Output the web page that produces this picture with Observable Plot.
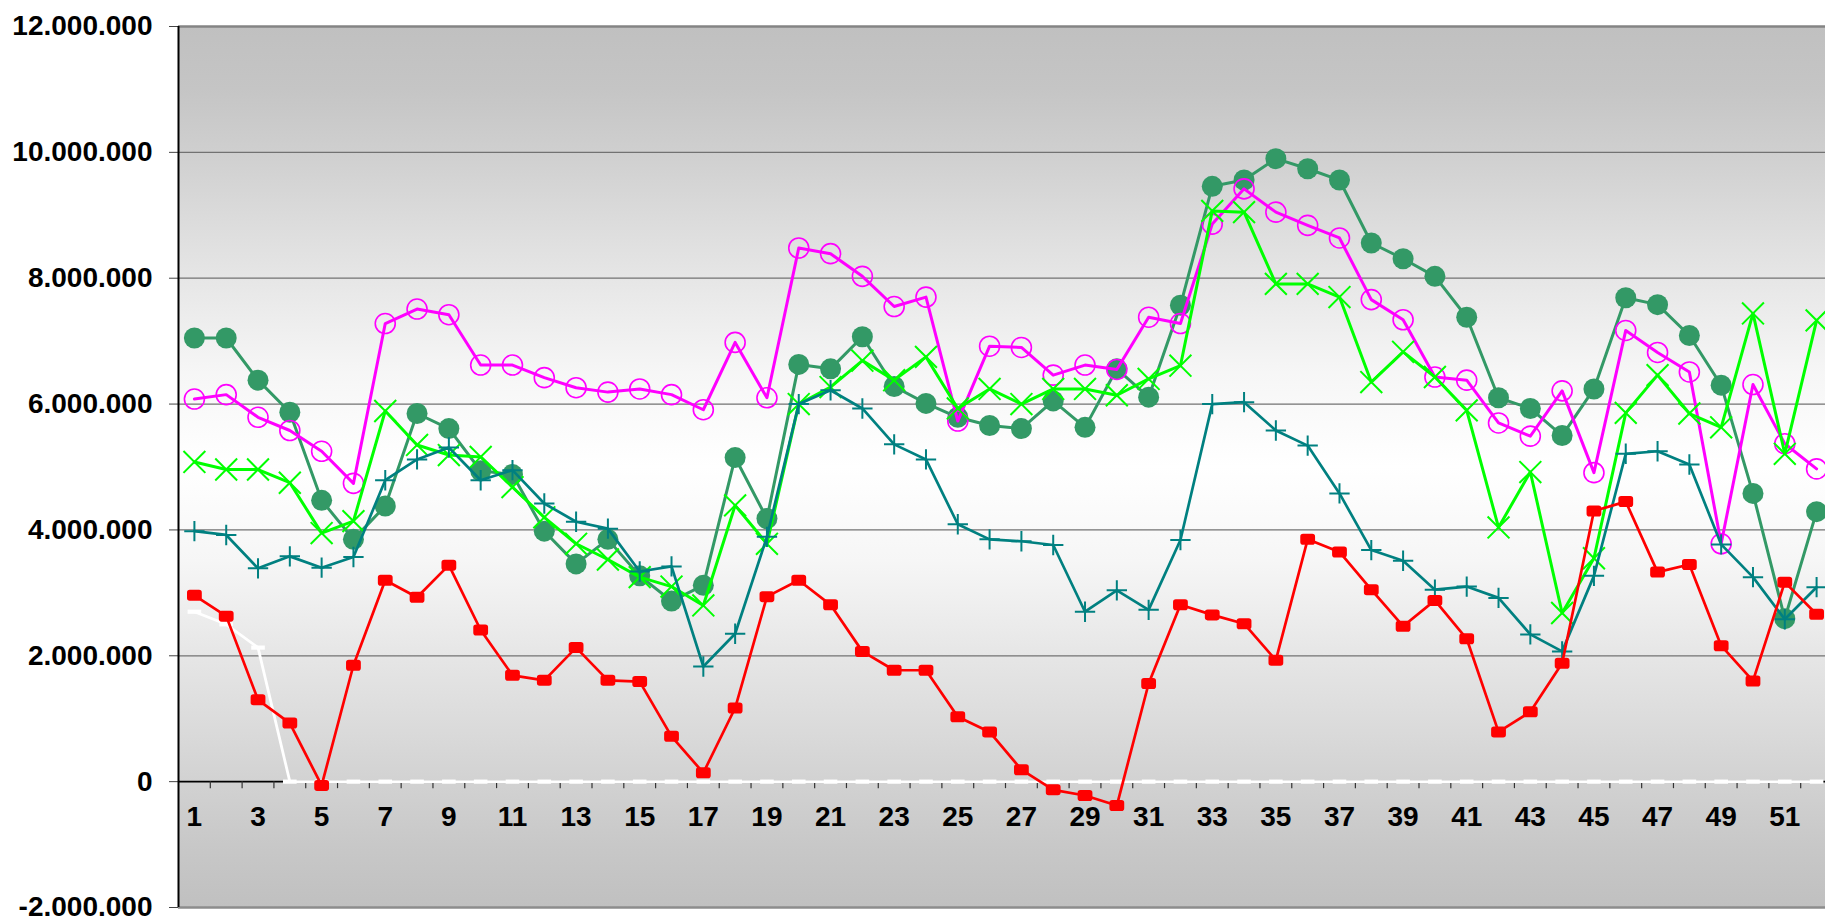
<!DOCTYPE html>
<html>
<head>
<meta charset="utf-8">
<script src="https://cdn.jsdelivr.net/npm/d3@7"></script>
<script src="https://cdn.jsdelivr.net/npm/@observablehq/plot@0.6"></script>
<style>
  html, body { margin: 0; padding: 0; background: #ffffff; overflow: hidden; width: 1825px; height: 920px; }
  #chart svg { display: block; }
</style>
</head>
<body>
<div id="chart"></div>
<script>
// ---------- data (values in millions) ----------
const weeks = [1,2,3,4,5,6,7,8,9,10,11,12,13,14,15,16,17,18,19,20,21,22,23,24,25,26,
               27,28,29,30,31,32,33,34,35,36,37,38,39,40,41,42,43,44,45,46,47,48,49,50,51,52];
const xTickLabels = [1,3,5,7,9,11,13,15,17,19,21,23,25,27,29,31,33,35,37,39,41,43,45,47,49,51];
const yTickValues = [-2000000, 0, 2000000, 4000000, 6000000, 8000000, 10000000, 12000000];

const seaGreenSeries = [7.05,7.05,6.38,5.87,4.47,3.85,4.38,5.85,5.61,4.94,4.88,3.98,3.46,3.85,3.27,2.87,3.12,5.15,4.18,6.63,
                        6.56,7.07,6.28,6.01,5.79,5.66,5.61,6.05,5.63,6.56,6.11,7.57,9.46,9.56,9.90,9.74,9.56,8.56,8.31,8.03,
                        7.38,6.10,5.93,5.50,6.24,7.69,7.58,7.09,6.30,4.58,2.59,4.29];
const magentaSeries  = [6.08,6.15,5.79,5.58,5.25,4.74,7.28,7.51,7.42,6.62,6.62,6.42,6.26,6.19,6.24,6.15,5.91,6.98,6.10,8.48,
                        8.39,8.03,7.55,7.70,5.73,6.92,6.90,6.46,6.62,6.55,7.38,7.28,8.86,9.42,9.05,8.84,8.64,7.66,7.34,6.43,
                        6.38,5.70,5.49,6.21,4.91,7.17,6.82,6.51,3.78,6.31,5.37,4.97];
const limeSeries     = [5.08,4.96,4.96,4.75,3.95,4.14,5.89,5.35,5.19,5.16,4.68,4.20,3.78,3.53,3.25,3.10,2.80,4.39,3.78,6.00,
                        6.27,6.69,6.38,6.75,5.93,6.24,6.00,6.24,6.24,6.14,6.40,6.61,9.07,9.05,7.91,7.91,7.70,6.35,6.83,6.43,
                        5.90,4.04,4.92,2.68,3.55,5.86,6.46,5.85,5.63,7.44,5.21,7.33];
const tealSeries     = [3.98,3.92,3.39,3.58,3.40,3.57,4.79,5.12,5.31,4.79,4.95,4.42,4.13,4.02,3.34,3.42,1.83,2.35,3.89,6.00,
                        6.22,5.93,5.36,5.12,4.09,3.85,3.82,3.76,2.70,3.04,2.73,3.84,6.00,6.03,5.58,5.34,4.58,3.68,3.51,3.05,
                        3.10,2.92,2.34,2.07,3.27,5.21,5.25,5.04,3.77,3.25,2.58,3.09];
const redSeries      = [2.96,2.63,1.30,0.93,-0.06,1.85,3.20,2.93,3.44,2.41,1.69,1.61,2.13,1.61,1.59,0.72,0.14,1.17,2.94,3.20,
                        2.81,2.07,1.77,1.77,1.03,0.79,0.19,-0.13,-0.22,-0.38,1.56,2.81,2.65,2.51,1.93,3.85,3.65,3.05,2.47,2.88,
                        2.27,0.79,1.11,1.88,4.30,4.45,3.33,3.45,2.16,1.60,3.17,2.66];
const whiteSeries    = [2.70,2.50,2.13,0,0,0,0,0,0,0,0,0,0,0,0,0,0,0,0,0,
                        0,0,0,0,0,0,0,0,0,0,0,0,0,0,0,0,0,0,0,0,
                        0,0,0,0,0,0,0,0,0,0,0,0];

// ---------- helpers ----------
const MIO = 1e6;
const table = (arr) => weeks.map((w, i) => ({week: w, value: arr[i] * MIO}));
const boundaries = weeks.slice(1).map((w) => w - 0.5);
const fmt = d3.formatLocale({decimal: ",", thousands: ".", grouping: [3], currency: ["", ""], minus: "-"}).format(",d");
const FONT = "Liberation Sans, Arial, Helvetica, sans-serif";

// rounded, slightly wide rectangle (Excel-like square marker)
const roundSquare = {
  draw(ctx) {
    const w = 7.4, h = 5.5, c = 2.8;
    ctx.moveTo(-w + c, -h); ctx.lineTo(w - c, -h); ctx.arcTo(w, -h, w, -h + c, c);
    ctx.lineTo(w, h - c); ctx.arcTo(w, h, w - c, h, c);
    ctx.lineTo(-w + c, h); ctx.arcTo(-w, h, -w, h - c, c);
    ctx.lineTo(-w, -h + c); ctx.arcTo(-w, -h, -w + c, -h, c);
    ctx.closePath();
  }
};
// short horizontal dash marker
const dashSymbol = {
  draw(ctx) {
    const w = 6.8, h = 2.1;
    ctx.moveTo(-w, -h); ctx.lineTo(w, -h); ctx.lineTo(w, h); ctx.lineTo(-w, h); ctx.closePath();
  }
};

const bgStops = [[12, "#c0c0c0"], [11, "#c5c5c5"], [10, "#cfcfcf"], [8, "#e6e6e6"], [6.5, "#f6f6f6"], [5, "#ffffff"],
                 [3.5, "#f6f6f6"], [2, "#e6e6e6"], [0, "#d2d2d2"], [-1, "#c8c8c8"], [-2, "#c0c0c0"]];
function background(index, scales, values, dims) {
  const y = scales.y;
  const ns = "http://www.w3.org/2000/svg";
  const g = document.createElementNS(ns, "g");
  const defs = document.createElementNS(ns, "defs");
  const lg = document.createElementNS(ns, "linearGradient");
  const yTop = y(12 * MIO), yBot = y(-2 * MIO);
  lg.setAttribute("id", "plotBg");
  lg.setAttribute("gradientUnits", "userSpaceOnUse");
  lg.setAttribute("x1", 0); lg.setAttribute("x2", 0);
  lg.setAttribute("y1", yTop); lg.setAttribute("y2", yBot);
  for (const [v, c] of bgStops) {
    const s = document.createElementNS(ns, "stop");
    s.setAttribute("offset", (y(v * MIO) - yTop) / (yBot - yTop));
    s.setAttribute("stop-color", c);
    lg.appendChild(s);
  }
  defs.appendChild(lg);
  g.appendChild(defs);
  const r = document.createElementNS(ns, "rect");
  r.setAttribute("x", dims.marginLeft);
  r.setAttribute("y", yTop);
  r.setAttribute("width", dims.width - dims.marginLeft);
  r.setAttribute("height", yBot - yTop);
  r.setAttribute("fill", "url(#plotBg)");
  g.appendChild(r);
  return g;
}

const gridValues = yTickValues.filter((v) => v > 0 && v < 12 * MIO);

function seriesMarks(arr, lineOpts, dotOpts) {
  const data = table(arr);
  return [
    Plot.line(data, {x: "week", y: "value", ...lineOpts}),
    Plot.dot(data, {x: "week", y: "value", ...dotOpts})
  ];
}

const chart = Plot.plot({
  width: 1825,
  height: 920,
  marginLeft: 178,
  marginRight: 0,
  marginTop: 26,
  marginBottom: 13,
  style: {fontFamily: FONT, maxWidth: "none", background: "#ffffff", overflow: "hidden"},
  x: {type: "linear", domain: [0.5, 52.5], range: [178, 1832], axis: null},
  y: {type: "linear", domain: [-2 * MIO, 12 * MIO], axis: null},
  marks: [
    background,
    Plot.ruleY(gridValues, {stroke: "#727272", strokeWidth: 1.3}),
    Plot.ruleY([12 * MIO], {stroke: "#848484", strokeWidth: 2.5}),
    Plot.ruleY([-2 * MIO], {stroke: "#8c8c8c", strokeWidth: 2.5}),
    Plot.ruleY([0], {stroke: "#000000", strokeWidth: 1.6}),
    Plot.ruleX(boundaries, {x: (d) => d, y1: () => 0, y2: () => 0, insetBottom: -7, stroke: "#333333", strokeWidth: 1.2}),
    Plot.text(xTickLabels, {x: (d) => d, y: () => 0, dy: 35, text: (d) => String(d),
      fontSize: 28, fontWeight: "bold", fontFamily: FONT, fill: "#000000", textAnchor: "middle"}),
    Plot.axisY({ticks: yTickValues, tickFormat: fmt, tickSize: 9, tickPadding: 17, label: null,
      fontSize: 28, fontWeight: "bold", fontFamily: FONT, stroke: "#444444", fill: "#000000"}),
    Plot.ruleX([0.5], {stroke: "#000000", strokeWidth: 2}),
    ...seriesMarks(whiteSeries, {stroke: "#ffffff", strokeWidth: 2.8}, {symbol: dashSymbol, r: 6, fill: "#ffffff", stroke: "none"}),
    ...seriesMarks(seaGreenSeries, {stroke: "#339966", strokeWidth: 3}, {symbol: "circle", r: 10.5, fill: "#339966", stroke: "none"}),
    ...seriesMarks(magentaSeries, {stroke: "#ff00ff", strokeWidth: 3}, {symbol: "circle", r: 10, fill: "none", stroke: "#ff00ff", strokeWidth: 1.6}),
    ...seriesMarks(limeSeries, {stroke: "#00ff00", strokeWidth: 3}, {symbol: "times", r: 10, fill: "none", stroke: "#00ff00", strokeWidth: 2}),
    ...seriesMarks(tealSeries, {stroke: "#008080", strokeWidth: 2.7}, {symbol: "plus", r: 6.6, fill: "none", stroke: "#008080", strokeWidth: 2}),
    ...seriesMarks(redSeries, {stroke: "#ff0000", strokeWidth: 2.7}, {symbol: roundSquare, r: 6, fill: "#ff0000", stroke: "none"})
  ]
});
document.getElementById("chart").appendChild(chart);
</script>
</body>
</html>
